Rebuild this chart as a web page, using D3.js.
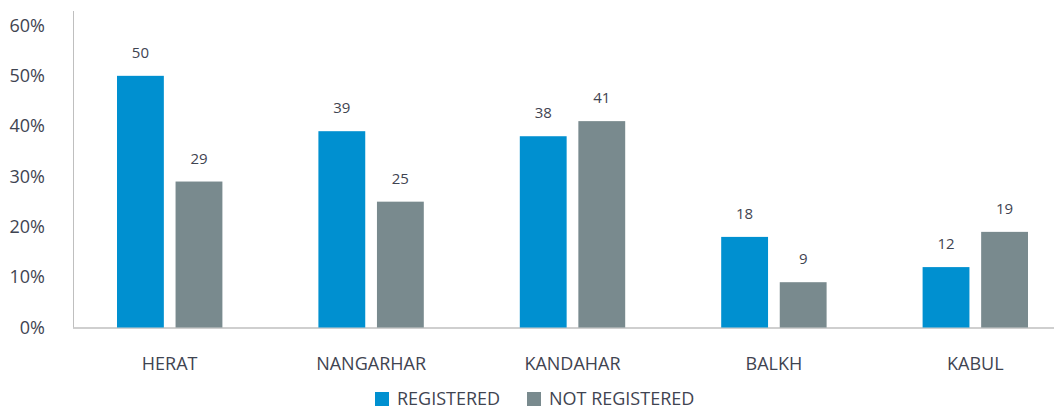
<!DOCTYPE html>
<html>
<head>
<meta charset="utf-8">
<script src="https://cdnjs.cloudflare.com/ajax/libs/d3/7.8.5/d3.min.js"></script>
<style>
  body { margin: 0; background: #fff; }
  svg text { font-family: "Open Sans", sans-serif; fill: #3f4451; }
</style>
</head>
<body>
<div id="chart"></div>
<script>
var PROVINCES = ['HERAT', 'NANGARHAR', 'KANDAHAR', 'BALKH', 'KABUL'];
var REGISTERED = [50, 39, 38, 18, 12];
var NOT_REGISTERED = [29, 25, 41, 9, 19];
var SERIES = ['REGISTERED', 'NOT REGISTERED'];
var Y_TICKS = [0, 10, 20, 30, 40, 50, 60];
var COLORS = ['#0090d0', '#798a8e'];

var width = 1054, height = 410;
var svg = d3.select('#chart').append('svg')
  .attr('width', width)
  .attr('height', height);

var x = d3.scaleBand()
  .domain(PROVINCES)
  .range([69, 1076]);

var x1 = d3.scaleBand()
  .domain(SERIES)
  .range([48, x.bandwidth() - 48])
  .paddingInner(0.2);

var y = d3.scaleLinear()
  .domain([0, 60])
  .range([327.5, 25.5]);

// y tick labels
svg.append('g')
  .selectAll('text')
  .data(Y_TICKS)
  .enter()
    .append('text')
    .attr('x', 45)
    .attr('y', function (d) { return y(d); })
    .attr('dy', '0.35em')
    .attr('text-anchor', 'end')
    .style('font-size', '18px')
    .text(function (d) { return d + '%'; });

// axis lines
svg.append('line')
  .attr('x1', 73.5).attr('x2', 73.5)
  .attr('y1', 11).attr('y2', y(0))
  .attr('stroke', '#bfbfbf');
svg.append('line')
  .attr('x1', 73).attr('x2', width)
  .attr('y1', y(0) + 0.5).attr('y2', y(0) + 0.5)
  .attr('stroke', '#bfbfbf')
  .attr('stroke-width', 1.5);

var rows = PROVINCES.map(function (p, i) {
  return { province: p, values: [REGISTERED[i], NOT_REGISTERED[i]] };
});

var groups = svg.append('g')
  .selectAll('g')
  .data(rows)
  .enter()
    .append('g')
    .attr('transform', function (d) { return 'translate(' + x(d.province) + ',0)'; });

groups.selectAll('rect')
  .data(function (d) { return d.values.map(function (v, j) { return { s: SERIES[j], v: v, j: j }; }); })
  .enter()
    .append('rect')
    .attr('x', function (d) { return x1(d.s); })
    .attr('width', x1.bandwidth())
    .attr('y', function (d) { return y(d.v); })
    .attr('height', function (d) { return y(0) - y(d.v); })
    .attr('fill', function (d) { return COLORS[d.j]; });

groups.selectAll('text.val')
  .data(function (d) { return d.values.map(function (v, j) { return { s: SERIES[j], v: v }; }); })
  .enter()
    .append('text')
    .attr('class', 'val')
    .attr('x', function (d) { return x1(d.s) + x1.bandwidth() / 2; })
    .attr('y', function (d) { return y(d.v) - 18; })
    .attr('text-anchor', 'middle')
    .style('font-size', '15px')
    .text(function (d) { return d.v; });

groups.append('text')
  .attr('x', x.bandwidth() / 2)
  .attr('y', 370)
  .attr('text-anchor', 'middle')
  .style('font-size', '18px')
  .text(function (d) { return d.province; });

// legend
var legend = svg.append('g');
var legendX = [375, 527];
SERIES.forEach(function (s, i) {
  legend.append('rect')
    .attr('x', legendX[i]).attr('y', 392)
    .attr('width', 14).attr('height', 14)
    .attr('fill', COLORS[i]);
  legend.append('text')
    .attr('x', legendX[i] + 22).attr('y', 405)
    .style('font-size', '18px')
    .text(s);
});
</script>
</body>
</html>
